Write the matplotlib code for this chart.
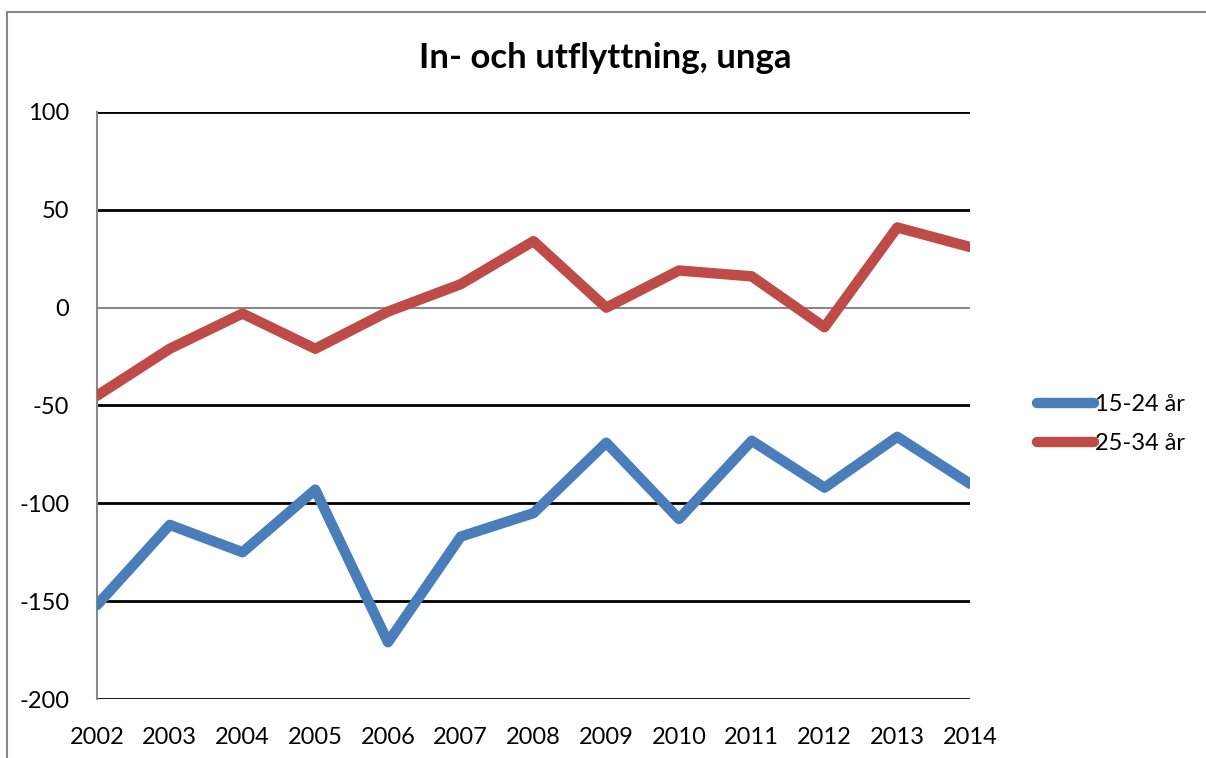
import matplotlib.pyplot as plt
from matplotlib.patches import Rectangle
from matplotlib.lines import Line2D

plt.rcParams['font.family'] = ['Lato', 'DejaVu Sans']
plt.rcParams['axes.unicode_minus'] = False

years = ['2002', '2003', '2004', '2005', '2006', '2007', '2008',
         '2009', '2010', '2011', '2012', '2013', '2014']
unga_15_24 = [-152, -111, -125, -93, -171, -117, -105, -69, -108, -68, -92, -66, -90]
unga_25_34 = [-45, -21, -3, -21, -2, 12, 34, 0, 19, 16, -10, 41, 31]
series_names = ['15-24 år', '25-34 år']
title = 'In- och utflyttning, unga'

W, H = 1206, 758
fig = plt.figure(figsize=(W / 100, H / 100), dpi=100)

# ram runt diagrammet
fig.add_artist(Rectangle((7 / W, -0.1), 1.2, 1 - 12 / H + 0.1, transform=fig.transFigure,
                         fill=False, edgecolor='#888888', linewidth=1.5))

ax = fig.add_axes([97 / W, 1 - 699 / H, (970 - 97) / W, (699 - 112) / H])
x = list(range(len(years)))
c_blue = '#4A7EBB'
c_red = '#BE4B48'
lw = 7.5
ax.plot(x, unga_15_24, color=c_blue, linewidth=lw, solid_capstyle='round',
        solid_joinstyle='round', zorder=3)
ax.plot(x, unga_25_34, color=c_red, linewidth=lw, solid_capstyle='round',
        solid_joinstyle='round', zorder=3)

ax.set_xlim(0, len(years) - 1)
ax.set_ylim(-200, 100)
ax.set_yticks(range(-200, 101, 50))
ax.set_xticks(x)
ax.set_xticklabels(years)
for v in range(-200, 101, 50):
    ax.axhline(v, color='#898989' if v == 0 else 'black', linewidth=1.5 if v == 0 else 2,
               zorder=1)
for s in ['top', 'right', 'bottom']:
    ax.spines[s].set_visible(False)
ax.spines['left'].set_color('#898989')
ax.spines['left'].set_linewidth(1.5)
ax.tick_params(length=0, labelsize=17)
ax.tick_params(axis='y', pad=20)
ax.tick_params(axis='x', pad=20)

fig.text(605 / W, 1 - 58 / H, title, ha='center', va='center', fontsize=25,
         fontweight='bold')

handles = [Line2D([], [], color=c_blue, linewidth=lw, solid_capstyle='round'),
           Line2D([], [], color=c_red, linewidth=lw, solid_capstyle='round')]
fig.legend(handles, series_names, loc='center left', bbox_to_anchor=(1028 / W, 1 - 424 / H),
           frameon=False, fontsize=17, handlelength=2.4, handletextpad=0.05,
           labelspacing=0.75, borderaxespad=0)

fig.savefig('out.png', dpi=100)
